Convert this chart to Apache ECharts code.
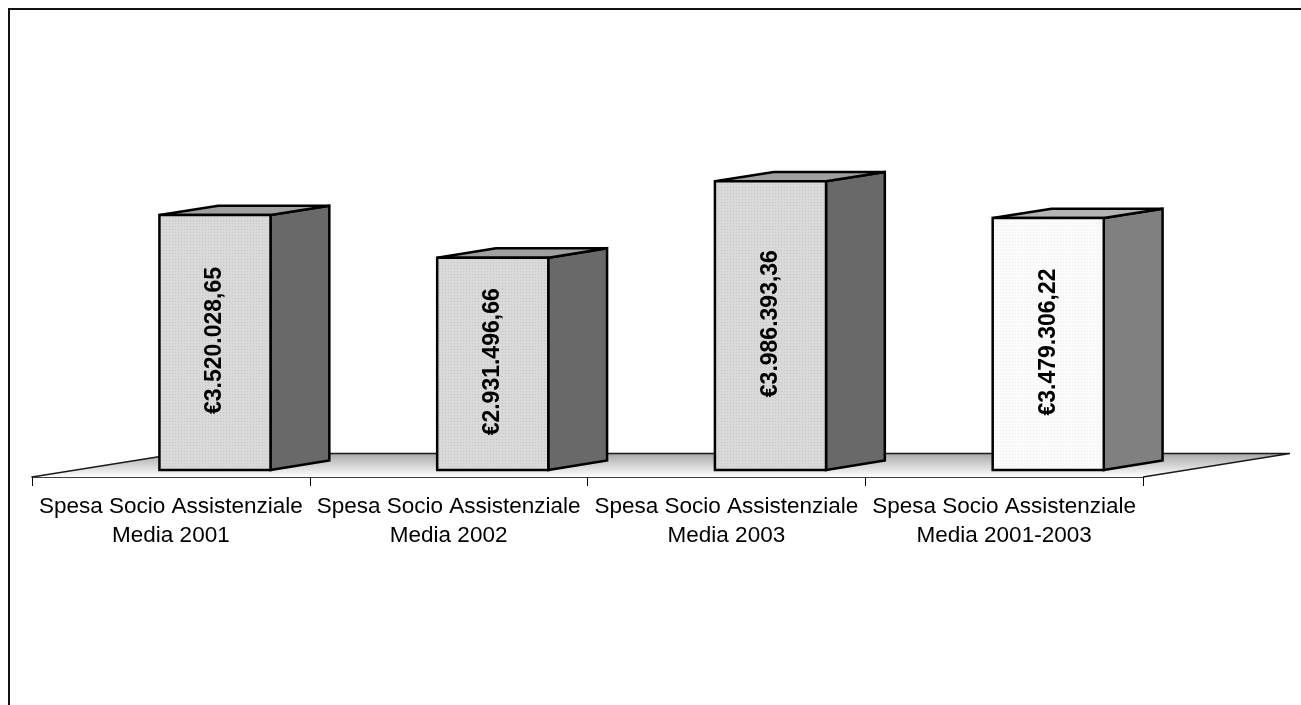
<!DOCTYPE html>
<html>
<head>
<meta charset="utf-8">
<script src="https://cdn.jsdelivr.net/npm/echarts@6/dist/echarts.min.js"></script>
<style>
  html, body { margin: 0; padding: 0; background: #ffffff; }
  #chart { width: 1301px; height: 705px; }
</style>
</head>
<body>
<div id="chart"></div>
<script>
// Categories and values
const categories = [
  'Spesa Socio Assistenziale\nMedia 2001',
  'Spesa Socio Assistenziale\nMedia 2002',
  'Spesa Socio Assistenziale\nMedia 2003',
  'Spesa Socio Assistenziale\nMedia 2001-2003'
];
const spesaMedia = [3520028.65, 2931496.66, 3986393.36, 3479306.22];

// Oblique depth of the floor (pixels) and where the boxes sit inside it
const DEPTH = [147, -23.5];
const BOX_FRONT = 0.3;
const BOX_BACK = 0.7;
const BOX_WIDTH = 0.4; // share of the category band

// Small dotted texture used on the front faces
function dotTexture(bg, dot) {
  const c = document.createElement('canvas');
  c.width = 3; c.height = 3;
  const g = c.getContext('2d');
  g.fillStyle = bg; g.fillRect(0, 0, 3, 3);
  g.fillStyle = dot; g.fillRect(1, 1, 1, 1);
  return c;
}

const greyFaces = {
  front: { image: dotTexture('#d9d9d9', '#c4c4c4'), repeat: 'repeat' },
  top: '#a0a0a0',
  side: '#696969'
};
const whiteFaces = {
  front: { image: dotTexture('#fbfbfb', '#efefef'), repeat: 'repeat' },
  top: '#b4b4b4',
  side: '#808080'
};
const faceStyles = [greyFaces, greyFaces, greyFaces, whiteFaces];

function formatEuro(v) {
  const parts = v.toFixed(2).split('.');
  return '\u20AC' + parts[0].replace(/\B(?=(\d{3})+(?!\d))/g, '.') + ',' + parts[1];
}

const EDGE = { stroke: '#000000', lineWidth: 2.5, lineJoin: 'miter' };

function renderBox(params, api) {
  const idx = api.value(0);
  const val = api.value(1);
  const base = api.coord([idx, 0]);
  const top = api.coord([idx, val]);
  const band = api.size([1, 0])[0];
  const fx = DEPTH[0] * BOX_FRONT, fy = DEPTH[1] * BOX_FRONT;
  const ddx = DEPTH[0] * (BOX_BACK - BOX_FRONT), ddy = DEPTH[1] * (BOX_BACK - BOX_FRONT);
  const x0 = base[0] - band * BOX_WIDTH / 2 + fx;
  const x1 = base[0] + band * BOX_WIDTH / 2 + fx;
  const yT = top[1] + fy;
  const yB = base[1] + fy;
  const faces = faceStyles[params.dataIndex];
  return {
    type: 'group',
    children: [
      {
        type: 'polygon',
        shape: { points: [[x1, yT], [x1 + ddx, yT + ddy], [x1 + ddx, yB + ddy], [x1, yB]] },
        style: Object.assign({ fill: faces.side }, EDGE)
      },
      {
        type: 'polygon',
        shape: { points: [[x0, yT], [x0 + ddx, yT + ddy], [x1 + ddx, yT + ddy], [x1, yT]] },
        style: Object.assign({ fill: faces.top }, EDGE)
      },
      {
        type: 'rect',
        shape: { x: x0, y: yT, width: x1 - x0, height: yB - yT },
        style: Object.assign({ fill: faces.front }, EDGE)
      },
      {
        type: 'text',
        x: (x0 + x1) / 2,
        y: (yT + yB) / 2 - 2,
        rotation: Math.PI / 2,
        style: {
          text: formatEuro(val),
          fill: '#000000',
          font: 'bold 23px "Liberation Sans", Arial, sans-serif',
          align: 'center',
          verticalAlign: 'middle'
        }
      }
    ]
  };
}

function renderFloor(params, api) {
  const cs = params.coordSys;
  const xl = cs.x, xr = cs.x + cs.width, yf = cs.y + cs.height;
  const pts = [[xl, yf], [xl + DEPTH[0], yf + DEPTH[1]], [xr + DEPTH[0], yf + DEPTH[1]], [xr, yf]];
  return {
    type: 'group',
    children: [
      {
        type: 'polygon',
        shape: { points: pts },
        style: {
          fill: new echarts.graphic.LinearGradient(0, 0, 0, 1, [
            { offset: 0, color: '#a8a8a8' },
            { offset: 1, color: '#ffffff' }
          ]),
          stroke: null
        }
      },
      {
        type: 'polyline',
        shape: { points: [pts[0], pts[1], pts[2], pts[3]] },
        style: { fill: null, stroke: '#1a1a1a', lineWidth: 1.3 }
      }
    ]
  };
}

const chart = echarts.init(document.getElementById('chart'), null, { renderer: 'canvas' });

chart.setOption({
  backgroundColor: '#ffffff',
  animation: false,
  grid: { left: 32, right: 158, top: 115, bottom: 228 },
  xAxis: {
    type: 'category',
    data: categories,
    boundaryGap: true,
    axisLine: { show: true, lineStyle: { color: '#000000', width: 1.5 } },
    axisTick: { show: true, length: 9, lineStyle: { color: '#000000', width: 1 } },
    axisLabel: {
      interval: 0,
      margin: 15,
      color: '#000000',
      fontSize: 22.5,
      lineHeight: 29,
      fontFamily: '"Liberation Sans", Arial, sans-serif',
      align: 'center'
    },
    splitLine: { show: false }
  },
  yAxis: {
    type: 'value',
    min: 0,
    max: 5000000,
    show: false,
    splitLine: { show: false }
  },
  graphic: [
    {
      type: 'rect',
      shape: { x: 9, y: 9, width: 1400, height: 800 },
      style: { fill: null, stroke: '#111111', lineWidth: 2 },
      z: 100
    }
  ],
  series: [
    {
      type: 'custom',
      name: 'floor',
      data: [[0]],
      renderItem: renderFloor,
      z: 1,
      silent: true
    },
    {
      type: 'custom',
      name: 'Spesa Socio Assistenziale',
      data: spesaMedia.map((v, i) => [i, v]),
      encode: { x: 0, y: 1 },
      renderItem: renderBox,
      z: 2
    }
  ]
});
</script>
</body>
</html>
